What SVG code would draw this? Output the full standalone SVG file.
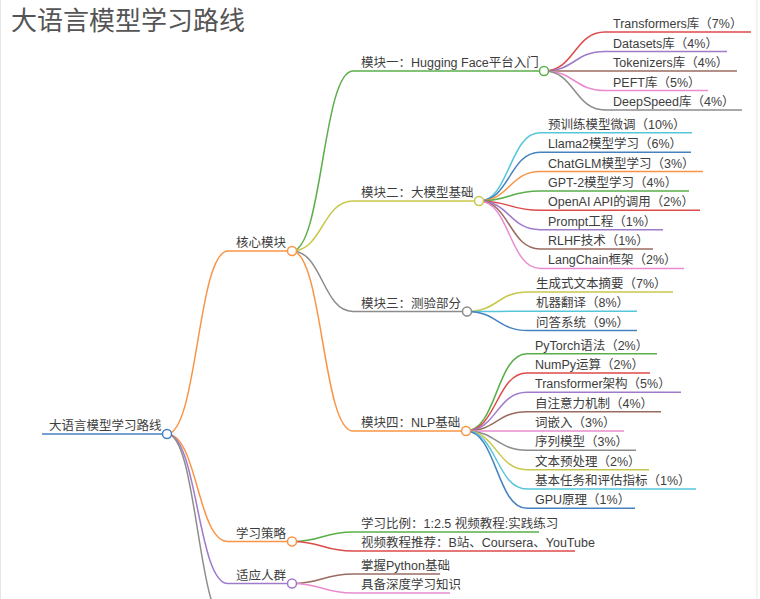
<svg xmlns="http://www.w3.org/2000/svg" width="760" height="599" viewBox="0 0 760 599">
<style>
text{font-family:"Liberation Sans","Noto Sans CJK SC",sans-serif;font-size:12.5px;fill:#3d3d3d}
.title{font-size:26px;fill:#555}
path,line{fill:none;stroke-width:1.5}
circle{fill:#fff;stroke-width:1.5}
.c0{stroke:#4682c0}.c1{stroke:#fa9445}.c2{stroke:#5aaf4a}.c3{stroke:#dc4a4a}.c4{stroke:#a07bcc}
.c5{stroke:#9a6b60}.c6{stroke:#e88ccf}.c7{stroke:#8c8c8c}.c8{stroke:#c8c84c}.c9{stroke:#56c6da}
.frame{stroke:#e6e6e6;stroke-width:1}
</style>
<rect width="760" height="599" fill="#fff"/>
<line class="frame" x1="0.5" y1="0" x2="0.5" y2="599"/>
<line class="frame" x1="757" y1="0" x2="757" y2="599"/>
<text class="title" x="11" y="30">大语言模型学习路线</text>

<g id="connectors">
<path class="c1" d="M167 434C197.5 434 197.5 251 228 251"/>
<path class="c1" d="M167 434C197.5 434 197.5 541.5 228 541.5"/>
<path class="c4" d="M167 434C197.5 434 197.5 583.5 228 583.5"/>
<path class="c7" d="M167 434C197.5 434 197.5 625 228 625"/>
<path class="c2" d="M292 251C322.5 251 322.5 71 353 71"/>
<path class="c8" d="M292 251C322.5 251 322.5 201 353 201"/>
<path class="c7" d="M292 251C322.5 251 322.5 311.5 353 311.5"/>
<path class="c1" d="M292 251C322.5 251 322.5 431 353 431"/>
<path class="c3" d="M544 71C574.5 71 574.5 32 605 32"/>
<path class="c4" d="M544 71C574.5 71 574.5 51.5 605 51.5"/>
<path class="c5" d="M544 71C574.5 71 574.5 71 605 71"/>
<path class="c6" d="M544 71C574.5 71 574.5 90.5 605 90.5"/>
<path class="c7" d="M544 71C574.5 71 574.5 110 605 110"/>
<path class="c9" d="M479 201C509.5 201 509.5 132.8 540 132.8"/>
<path class="c0" d="M479 201C509.5 201 509.5 152.2 540 152.2"/>
<path class="c1" d="M479 201C509.5 201 509.5 171.6 540 171.6"/>
<path class="c2" d="M479 201C509.5 201 509.5 190.9 540 190.9"/>
<path class="c3" d="M479 201C509.5 201 509.5 210.3 540 210.3"/>
<path class="c4" d="M479 201C509.5 201 509.5 229.7 540 229.7"/>
<path class="c5" d="M479 201C509.5 201 509.5 249 540 249"/>
<path class="c6" d="M479 201C509.5 201 509.5 268.4 540 268.4"/>
<path class="c8" d="M467 311.5C497.5 311.5 497.5 292 528 292"/>
<path class="c9" d="M467 311.5C497.5 311.5 497.5 311.3 528 311.3"/>
<path class="c0" d="M467 311.5C497.5 311.5 497.5 330.6 528 330.6"/>
<path class="c2" d="M466 431C496.5 431 496.5 353.7 527 353.7"/>
<path class="c3" d="M466 431C496.5 431 496.5 373 527 373"/>
<path class="c4" d="M466 431C496.5 431 496.5 392.3 527 392.3"/>
<path class="c5" d="M466 431C496.5 431 496.5 411.7 527 411.7"/>
<path class="c6" d="M466 431C496.5 431 496.5 431 527 431"/>
<path class="c7" d="M466 431C496.5 431 496.5 450.3 527 450.3"/>
<path class="c8" d="M466 431C496.5 431 496.5 469.7 527 469.7"/>
<path class="c9" d="M466 431C496.5 431 496.5 489 527 489"/>
<path class="c0" d="M466 431C496.5 431 496.5 508.3 527 508.3"/>
<path class="c2" d="M292 541.5C322.5 541.5 322.5 532 353 532"/>
<path class="c3" d="M292 541.5C322.5 541.5 322.5 551 353 551"/>
<path class="c5" d="M292 583.5C322.5 583.5 322.5 574 353 574"/>
<path class="c6" d="M292 583.5C322.5 583.5 322.5 593 353 593"/>
</g>

<g id="root"><line class="c0" x1="42" y1="434" x2="167" y2="434"/><text x="49" y="430">大语言模型学习路线</text><circle class="c0" cx="167" cy="434" r="4.5"/></g>
<g id="core"><line class="c1" x1="228" y1="251" x2="292" y2="251"/><text x="236" y="247">核心模块</text><circle class="c1" cx="292" cy="251" r="4.5"/></g>
<g id="strategy"><line class="c1" x1="228" y1="541.5" x2="292" y2="541.5"/><text x="236" y="537.5">学习策略</text><circle class="c1" cx="292" cy="541.5" r="4.5"/></g>
<g id="audience"><line class="c4" x1="228" y1="583.5" x2="292" y2="583.5"/><text x="236" y="579.5">适应人群</text><circle class="c4" cx="292" cy="583.5" r="4.5"/></g>

<g id="m1"><line class="c2" x1="353" y1="71" x2="544" y2="71"/><text x="361" y="67">模块一：Hugging Face平台入门</text><circle class="c2" cx="544" cy="71" r="4.5"/></g>
<g id="m2"><line class="c8" x1="353" y1="201" x2="479" y2="201"/><text x="361" y="197">模块二：大模型基础</text><circle class="c8" cx="479" cy="201" r="4.5"/></g>
<g id="m3"><line class="c7" x1="353" y1="311.5" x2="467" y2="311.5"/><text x="361" y="307.5">模块三：测验部分</text><circle class="c7" cx="467" cy="311.5" r="4.5"/></g>
<g id="m4"><line class="c1" x1="353" y1="431" x2="466" y2="431"/><text x="361" y="427">模块四：NLP基础</text><circle class="c1" cx="466" cy="431" r="4.5"/></g>

<g id="m1-1"><line class="c3" x1="605" y1="32" x2="751" y2="32"/><text x="613" y="28">Transformers库（7%）</text></g>
<g id="m1-2"><line class="c4" x1="605" y1="51.5" x2="727" y2="51.5"/><text x="613" y="47.5">Datasets库（4%）</text></g>
<g id="m1-3"><line class="c5" x1="605" y1="71" x2="737" y2="71"/><text x="613" y="67">Tokenizers库（4%）</text></g>
<g id="m1-4"><line class="c6" x1="605" y1="90.5" x2="708" y2="90.5"/><text x="613" y="86.5">PEFT库（5%）</text></g>
<g id="m1-5"><line class="c7" x1="605" y1="110" x2="742" y2="110"/><text x="613" y="106">DeepSpeed库（4%）</text></g>

<g id="m2-1"><line class="c9" x1="540" y1="132.8" x2="692" y2="132.8"/><text x="548" y="128.8">预训练模型微调（10%）</text></g>
<g id="m2-2"><line class="c0" x1="540" y1="152.2" x2="691" y2="152.2"/><text x="548" y="148.2">Llama2模型学习（6%）</text></g>
<g id="m2-3"><line class="c1" x1="540" y1="171.6" x2="703" y2="171.6"/><text x="548" y="167.6">ChatGLM模型学习（3%）</text></g>
<g id="m2-4"><line class="c2" x1="540" y1="190.9" x2="689" y2="190.9"/><text x="548" y="186.9">GPT-2模型学习（4%）</text></g>
<g id="m2-5"><line class="c3" x1="540" y1="210.3" x2="700" y2="210.3"/><text x="548" y="206.3">OpenAI API的调用（2%）</text></g>
<g id="m2-6"><line class="c4" x1="540" y1="229.7" x2="663" y2="229.7"/><text x="548" y="225.7">Prompt工程（1%）</text></g>
<g id="m2-7"><line class="c5" x1="540" y1="249" x2="653" y2="249"/><text x="548" y="245">RLHF技术（1%）</text></g>
<g id="m2-8"><line class="c6" x1="540" y1="268.4" x2="684" y2="268.4"/><text x="548" y="264.4">LangChain框架（2%）</text></g>

<g id="m3-1"><line class="c8" x1="528" y1="292" x2="673" y2="292"/><text x="536" y="288">生成式文本摘要（7%）</text></g>
<g id="m3-2"><line class="c9" x1="528" y1="311.3" x2="637" y2="311.3"/><text x="536" y="307.3">机器翻译（8%）</text></g>
<g id="m3-3"><line class="c0" x1="528" y1="330.6" x2="637" y2="330.6"/><text x="536" y="326.6">问答系统（9%）</text></g>

<g id="m4-1"><line class="c2" x1="527" y1="353.7" x2="657" y2="353.7"/><text x="535" y="349.7">PyTorch语法（2%）</text></g>
<g id="m4-2"><line class="c3" x1="527" y1="373" x2="650" y2="373"/><text x="535" y="369">NumPy运算（2%）</text></g>
<g id="m4-3"><line class="c4" x1="527" y1="392.3" x2="681" y2="392.3"/><text x="535" y="388.3">Transformer架构（5%）</text></g>
<g id="m4-4"><line class="c5" x1="527" y1="411.7" x2="661" y2="411.7"/><text x="535" y="407.7">自注意力机制（4%）</text></g>
<g id="m4-5"><line class="c6" x1="527" y1="431" x2="624" y2="431"/><text x="535" y="427">词嵌入（3%）</text></g>
<g id="m4-6"><line class="c7" x1="527" y1="450.3" x2="636" y2="450.3"/><text x="535" y="446.3">序列模型（3%）</text></g>
<g id="m4-7"><line class="c8" x1="527" y1="469.7" x2="649" y2="469.7"/><text x="535" y="465.7">文本预处理（2%）</text></g>
<g id="m4-8"><line class="c9" x1="527" y1="489" x2="696" y2="489"/><text x="535" y="485">基本任务和评估指标（1%）</text></g>
<g id="m4-9"><line class="c0" x1="527" y1="508.3" x2="635" y2="508.3"/><text x="535" y="504.3">GPU原理（1%）</text></g>

<g id="s-1"><line class="c2" x1="353" y1="532" x2="539" y2="532"/><text x="361" y="528">学习比例：1:2.5 视频教程:实践练习</text></g>
<g id="s-2"><line class="c3" x1="353" y1="551" x2="575" y2="551"/><text x="361" y="547">视频教程推荐：B站、Coursera、YouTube</text></g>
<g id="a-1"><line class="c5" x1="353" y1="574" x2="440" y2="574"/><text x="361" y="570">掌握Python基础</text></g>
<g id="a-2"><line class="c6" x1="353" y1="593" x2="450" y2="593"/><text x="361" y="589">具备深度学习知识</text></g>
</svg>
